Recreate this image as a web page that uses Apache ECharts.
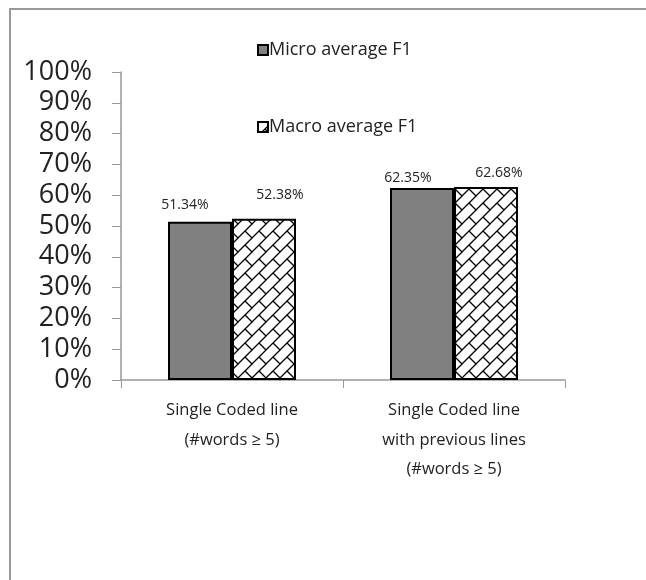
<!DOCTYPE html>
<html>
<head>
<meta charset="utf-8">
<script src="https://cdn.jsdelivr.net/npm/echarts@6/dist/echarts.min.js"></script>
<style>
html,body{margin:0;padding:0;background:#fff;}
#frame{position:absolute;left:9px;top:8px;width:660px;height:600px;border-left:2px solid #999;border-top:2px solid #999;}
#c{position:absolute;left:0;top:0;width:646px;height:580px;}
</style>
</head>
<body>
<div id="frame"></div>
<div id="c"></div>
<script>
const categories = ['Single Coded line\n(#words \u2265 5)', 'Single Coded line\nwith previous lines\n(#words \u2265 5)'];
const seriesNames = ['Micro average F1', 'Macro average F1'];
const microF1 = [51.34, 62.35];
const macroF1 = [52.38, 62.68];
const yTicks = [0, 10, 20, 30, 40, 50, 60, 70, 80, 90, 100];

function makePattern() {
  const s = 14;
  const cv = document.createElement('canvas');
  cv.width = s; cv.height = s;
  const ctx = cv.getContext('2d');
  ctx.fillStyle = '#fff';
  ctx.fillRect(0, 0, s, s);
  ctx.strokeStyle = '#000';
  ctx.lineWidth = 1.3;
  ctx.beginPath();
  ctx.moveTo(-1, s + 1); ctx.lineTo(s + 1, -1);
  ctx.moveTo(s / 2, s / 2); ctx.lineTo(s + 1, s + 1);
  ctx.moveTo(-1, -1); ctx.lineTo(0.5, 0.5);
  ctx.stroke();
  return cv;
}

const labelFmt = p => p.value.toFixed(2) + '%';
const microOffsets = [[-15, -6], [-14, 1]];
const macroOffsets = [[16, -13], [13, -3]];

const chart = echarts.init(document.getElementById('c'));
const fontFam = '"Open Sans", "Noto Sans", sans-serif';
chart.setOption({
  animation: false,
  backgroundColor: 'transparent',
  textStyle: { fontFamily: fontFam, color: '#222' },
  legend: {
    orient: 'vertical',
    left: 252,
    top: 36,
    itemGap: 59,
    itemWidth: 10,
    itemHeight: 10,
    icon: 'rect',
    textStyle: { fontSize: 18, color: '#222', padding: [0, 0, 0, -4] },
    data: seriesNames
  },
  grid: { left: 121, right: 81, top: 72, bottom: 200 },
  xAxis: {
    type: 'category',
    data: categories,
    axisLine: { lineStyle: { color: '#999', width: 1.5 } },
    axisTick: { show: true, length: 8, lineStyle: { color: '#999' } },
    axisLabel: { fontSize: 16.5, color: '#222', lineHeight: 29.5, margin: 16 }
  },
  yAxis: {
    type: 'value',
    min: yTicks[0],
    max: yTicks[yTicks.length - 1],
    interval: 10,
    splitLine: { show: false },
    axisLine: { show: true, lineStyle: { color: '#999', width: 1.5 } },
    axisTick: { show: true, length: 9, lineStyle: { color: '#999' } },
    axisLabel: { fontSize: 27, color: '#222', margin: 29, formatter: v => v + '%' }
  },
  series: [
    {
      name: seriesNames[0],
      type: 'bar',
      data: microF1.map((v, i) => ({ value: v, label: { offset: microOffsets[i] } })),
      barWidth: 64,
      barGap: '0%',
      itemStyle: { color: '#808080', borderColor: '#000', borderWidth: 2 },
      label: { show: true, position: 'top', fontSize: 14, color: '#222', distance: 4, formatter: labelFmt }
    },
    {
      name: seriesNames[1],
      type: 'bar',
      data: macroF1.map((v, i) => ({ value: v, label: { offset: macroOffsets[i] } })),
      barWidth: 64,
      itemStyle: { color: { image: makePattern(), repeat: 'repeat' }, borderColor: '#000', borderWidth: 2 },
      label: { show: true, position: 'top', fontSize: 14, color: '#222', distance: 4, formatter: labelFmt }
    }
  ]
});
</script>
</body>
</html>
